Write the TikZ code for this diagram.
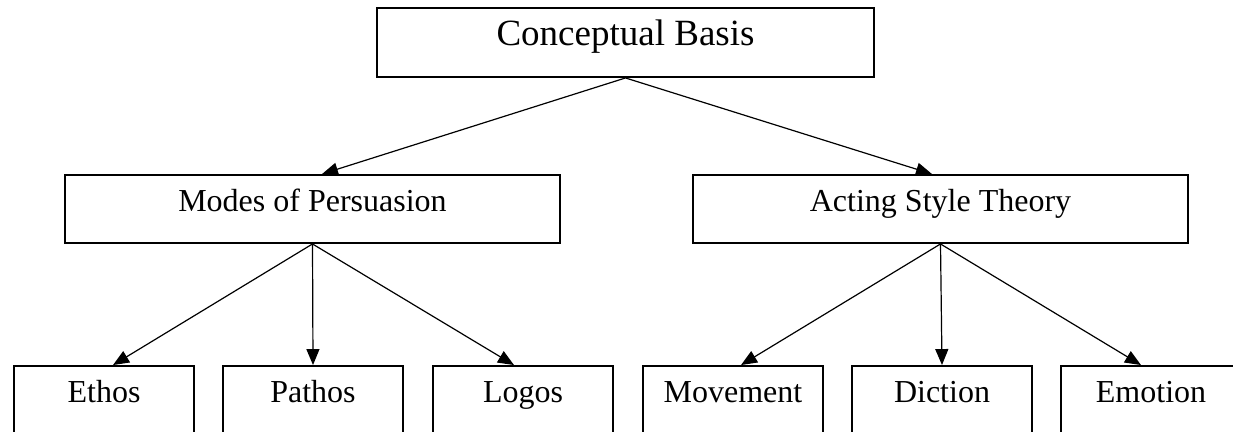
\documentclass[tikz,border=0pt]{standalone}
\usepackage{fontspec}
\setmainfont{Liberation Serif}
\usetikzlibrary{arrows.meta}
\begin{document}
\begin{tikzpicture}[x=1pt,y=-1pt,
  box/.style={draw, line width=1.9pt, inner sep=0pt, minimum height=68pt,
    text height=0.78em, text depth=0.22em, font=\fontsize{32}{38}\selectfont},
  widebox/.style={box, minimum width=495pt},
  smallbox/.style={box, minimum width=180pt},
  topbox/.style={box, minimum width=497pt, minimum height=69pt,
    font=\fontsize{37}{44}\selectfont, text height=0.8em, text depth=0.23em},
  conn/.style={line width=1.2pt, -{Triangle[length=16pt,width=13pt]}}]
\useasboundingbox (0,0) rectangle (1233,431);
\node[topbox] (cb) at (625.5,42.5) {Conceptual Basis};
\node[widebox] (mp) at (312.5,209) {Modes of Persuasion};
\node[widebox] (ast) at (940.5,209) {Acting Style Theory};
\node[smallbox] (eth) at (104,400) {Ethos};
\node[smallbox] (pat) at (313,400) {Pathos};
\node[smallbox] (log) at (523,400) {Logos};
\node[smallbox] (mov) at (733,400) {Movement};
\node[smallbox] (dic) at (942,400) {Diction};
\node[smallbox] (emo) at (1151,400) {Emotion};
\draw[conn] (cb.south) -- ([xshift=9.5pt]mp.north);
\draw[conn] (cb.south) -- ([xshift=-8.5pt]ast.north);
\draw[conn] (mp.south) -- ([xshift=9pt]eth.north);
\draw[conn] (mp.south) -- (pat.north);
\draw[conn] (mp.south) -- ([xshift=-9pt]log.north);
\draw[conn] (ast.south) -- ([xshift=8pt]mov.north);
\draw[conn] (ast.south) -- (dic.north);
\draw[conn] (ast.south) -- ([xshift=-10pt]emo.north);
\end{tikzpicture}
\end{document}
